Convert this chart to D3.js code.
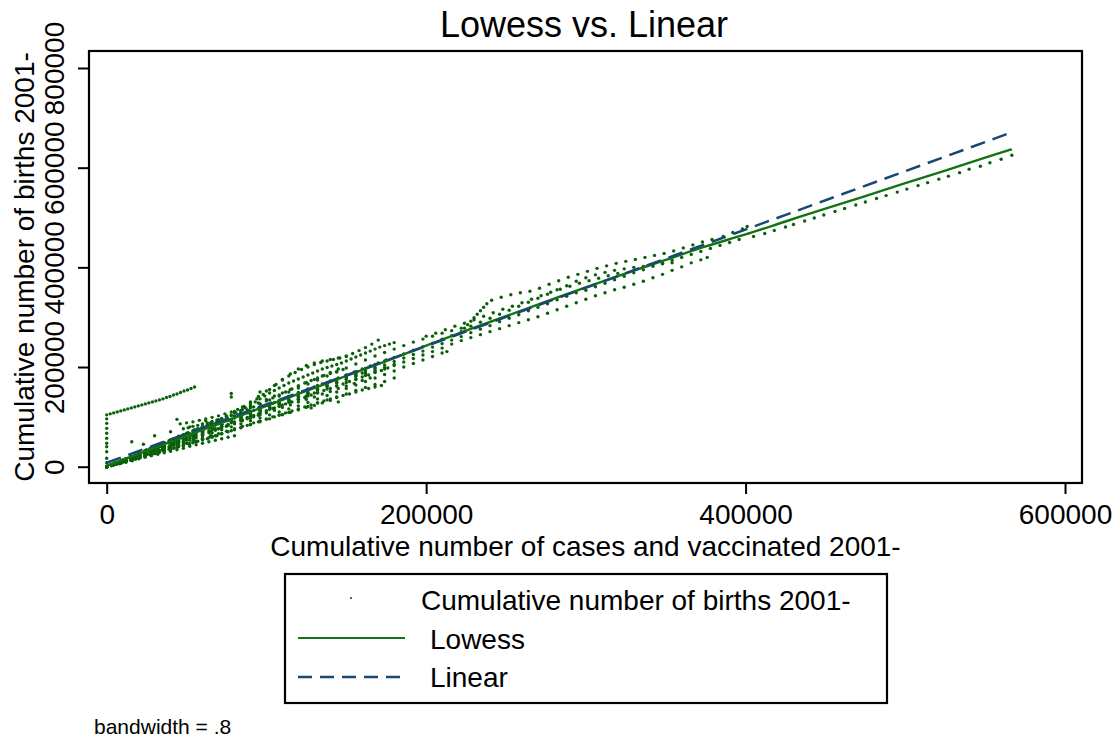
<!DOCTYPE html>
<html><head><meta charset="utf-8">
<script src="https://cdn.jsdelivr.net/npm/d3@7"></script>
<style>
body{margin:0;background:#fff}
svg{display:block}
text{font-family:"Liberation Sans",Arial,sans-serif;fill:#000}
</style></head>
<body><svg id="c" width="1113" height="738"></svg>
<script>
// ---- data (values in thousands) ----
const titleText = "Lowess vs. Linear";
const xTitle = "Cumulative number of cases and vaccinated 2001-";
const yTitle = "Cumulative number of births 2001-";
const xTicks = [0, 200000, 400000, 600000];
const yTicks = [0, 200000, 400000, 600000, 800000];
const legendLabels = ["Cumulative number of births 2001-", "Lowess", "Linear"];
const noteText = "bandwidth = .8";

const trackUL = [[0,104],[2.2,106],[4.4,108],[6.6,110],[8.8,112],[11,114],[13.2,116],[15.4,118],[17.6,120],[19.8,122],[22,124],[24.2,126],[26.4,128],[28.6,130],[30.8,132],[33,134],[35.2,136],[37.4,139],[39.6,141],[41.8,144],[44,146],[46.2,149],[48.4,152],[50.6,154],[52.8,157],[55,160]];
const trackV = [[0,8],[0,17],[0,30],[0,40],[0,47],[0,57],[0,67],[0,77],[0,87],[0,96]];
const trackSpikes = [[15.7,50],[78,147],[78,140],[44,95],[40,70],[30,62],[62,92],[23,45],[52,80],[96,150],[110,105],[128,118],[145,130]];
const trackS1 = [[0,0],[6,5],[12,11],[18,16],[24,22],[30,27],[36,33],[42,38],[48,44],[54,50],[60,55],[66,61],[72,66],[78,72],[84,78],[90,84],[96,90],[102,96],[108,103],[114,109],[120,115],[126,121],[132,128],[138,134],[144,140],[150,146],[156,153],[162,159],[168,165],[174,171],[180,178]];
const trackS2 = [[0,0],[4,3],[8,6],[12,9],[16,12],[20,16],[24,19],[28,22],[32,25],[36,28],[40,31],[44,34],[48,37],[52,41],[56,44],[60,47],[64,50],[68,53],[72,56],[76,59],[80,62]];
const trackS3 = [[0,0],[4,3],[8,7],[12,10],[16,14],[20,17],[24,21],[28,24],[32,28],[36,31],[40,35],[44,39],[48,42],[52,46],[56,50],[60,54],[64,58],[68,62],[72,66],[76,70],[80,74],[84,79],[88,83],[92,88],[96,92],[100,96],[104,100],[108,104],[112,108],[116,112],[120,116],[124,120],[128,124],[132,128],[136,132],[140,136],[144,139],[148,143],[152,146],[156,150],[160,154],[164,157],[168,160],[172,163]];
const trackS4 = [[0,0],[6,6],[12,13],[18,19],[24,25],[30,31],[36,37],[42,44],[48,50],[54,56],[60,62],[66,68],[72,74],[78,80],[84,86],[90,92],[96,98],[102,104],[108,110],[114,116],[120,122],[126,129],[132,136],[138,143],[144,150],[150,157],[156,164],[162,171],[168,178],[174,185],[180,192],[186,200],[192,207],[198,214],[204,221],[210,228],[213,231]];
const trackS5 = [[0,0],[6,7],[12,14],[18,21],[24,28],[30,35],[36,42],[42,49],[48,56],[54,63],[60,70],[66,77],[72,84],[78,91],[84,98],[90,105],[96,112],[102,119],[108,126],[114,133],[120,140],[126,147],[132,154],[138,161],[144,168],[150,175],[156,181],[162,187],[168,193],[174,199],[180,205]];
const trackS6 = [[0,0],[5,6],[10,12],[15,18],[20,24],[25,30],[30,36],[35,41],[40,47],[45,53],[50,59],[55,65],[60,71],[66,78],[72,85],[78,92],[84,99],[90,106],[96,113],[102,120],[108,127],[114,134],[120,141],[126,148],[132,156],[138,164],[144,172],[150,180],[156,187],[162,193],[168,199]];
const trackS7 = [[0,0],[4,5],[8,10],[12,16],[16,21],[20,27],[24,32],[28,37],[32,43],[36,48],[40,53],[44,58],[46,86],[50,88],[54,90],[58,93],[62,96],[66,99],[70,102],[74,106],[78,110],[82,115],[86,121],[90,128],[94,136],[98,145],[102,155],[106,165],[110,174],[114,182],[118,189],[122,195],[126,200],[130,205],[134,209],[138,212],[142,215],[146,218],[150,222],[154,227],[158,233],[162,239],[166,246],[170,254]];
const trackS8 = [[0,0],[5,7],[10,13],[15,19],[20,25],[25,31],[30,37],[35,43],[40,49],[45,56],[50,63],[55,70],[60,78],[65,86],[70,94],[75,102],[80,111],[85,120],[90,130],[95,141],[100,152],[105,163],[110,175],[115,186],[120,196],[125,203],[130,208],[135,212],[140,215],[145,218],[150,221]];
const trackS9 = [[0,0],[5,6],[10,12],[15,18],[20,24],[25,30],[30,36],[35,43],[40,50],[45,57],[50,64],[55,71],[60,78],[66,86],[72,94],[78,102],[84,110],[90,118],[96,126],[102,134],[108,142],[114,150],[120,158],[126,166],[132,174],[138,182],[144,190],[150,198],[156,206],[162,214],[168,222],[174,229],[180,236],[186,243],[192,250],[198,256],[204,262],[210,268],[216,273],[222,278],[228,282],[234,290],[240,298],[246,306],[252,314],[258,322],[264,330],[270,338],[276,346],[282,355],[288,363],[294,372],[300,379],[306,385],[312,390],[318,394],[324,397],[330,400],[336,402],[342,405],[348,407],[354,409]];
const trackS10 = [[0,0],[5,5],[10,11],[15,16],[20,22],[25,27],[30,33],[35,39],[40,45],[45,51],[50,57],[55,63],[60,69],[66,77],[72,85],[78,93],[84,101],[90,109],[96,117],[102,125],[108,133],[114,141],[120,149],[126,156],[132,163],[138,169],[144,175],[150,180],[156,185],[160,188]];
const trackS11 = [[0,0],[5,5],[10,10],[15,15],[20,20],[25,26],[30,31],[35,36],[40,42],[45,47],[50,53],[55,58],[60,64],[65,70],[70,76],[75,82],[80,88],[85,94],[90,100],[95,106],[100,112],[105,118],[110,124],[115,130],[120,136],[125,142],[130,148]];
const trackS12 = [[0,0],[4,5],[8,10],[12,14],[16,19],[20,24],[24,29],[28,33],[32,38],[36,43],[40,48],[44,53],[48,58],[52,63],[56,68],[60,73],[64,78],[68,83],[72,88],[76,93],[80,98],[84,103],[88,108],[92,113],[96,118],[100,123],[104,127],[108,131]];
const trackS13 = [[0,0],[4,4],[8,8],[12,11],[16,15],[20,19],[24,23],[28,27],[32,31],[36,35],[40,39],[44,44],[48,48],[52,53],[56,58],[60,63],[64,68],[68,73],[72,78],[76,83],[80,88],[84,92],[88,96],[92,100],[96,104]];
const trackS14 = [[0,0],[3,4],[6,8],[9,12],[12,16],[15,20],[18,24],[21,28],[24,32],[27,36],[30,40],[33,44],[36,48],[39,52],[42,56],[45,60],[48,64],[51,68],[54,72],[57,76],[60,80],[63,84],[66,87],[69,90],[72,93]];
const trackS15 = [[0,0],[3,3],[6,7],[9,10],[12,14],[15,17],[18,21],[21,25],[24,29],[27,33],[30,37],[33,41],[36,45],[39,49],[42,53],[45,57],[48,61],[51,66],[54,70]];
const trackS16 = [[0,0],[3,3],[6,6],[9,9],[12,12],[15,15],[18,18],[21,21],[24,24],[27,27],[30,30],[33,33],[36,36],[39,40],[42,43]];
const trackS17 = [[0,0],[3,4],[6,7],[9,11],[12,14],[15,18],[18,22],[21,25],[24,29],[27,33],[30,37],[33,40],[36,44],[39,48],[42,52],[45,56],[48,76],[51,78],[54,81],[57,83],[60,86],[63,88],[66,91],[69,94],[72,97],[75,100],[78,104],[81,108],[84,113],[87,118],[90,124],[93,130],[96,136],[99,142],[102,148],[105,153],[108,158],[111,163],[114,168],[117,172],[120,176],[123,180],[126,184],[129,188],[132,192],[135,196],[138,199],[141,202],[144,205],[147,208],[150,212],[153,216],[156,220],[159,224],[162,228],[165,232],[168,236],[171,240],[174,243],[177,246],[180,249]];
const trackS18 = [[0,0],[3,2],[6,5],[9,7],[12,10],[15,13],[18,15],[21,18],[24,21],[27,24],[30,26],[33,29],[36,32],[39,35],[42,37],[45,40],[48,43],[51,46],[54,48],[57,51],[60,54],[63,56],[66,59],[69,62]];
const trackS19 = [[0,0],[3,4],[6,7],[9,11],[12,15],[15,18],[18,22],[21,26],[24,29],[27,33],[30,37],[33,41],[36,45],[39,49],[42,53],[45,57],[48,61],[52,66],[56,71],[60,76],[64,81],[68,86],[72,91],[76,96],[80,102],[84,108],[88,114],[92,120],[96,126],[100,132],[104,138],[108,144],[112,150],[116,156],[120,162],[124,168],[128,173],[132,178],[136,183],[140,187],[144,191],[148,195]];
const trackS20 = [[0,0],[4,4],[8,9],[12,13],[16,18],[20,22],[24,27],[28,31],[32,36],[36,40],[40,45],[44,49],[48,54],[52,58],[56,63],[60,67],[64,72],[68,76],[72,81],[76,85],[80,90],[84,94],[88,99],[92,103],[96,108],[100,112],[104,117],[108,121],[112,126],[116,130],[120,135],[124,139],[128,144],[132,148],[136,153],[140,157],[144,162],[148,166],[152,171],[156,175],[160,180],[164,184],[168,189],[172,193],[176,198]];
const trackS21 = [[0,0],[5,6],[10,12],[15,19],[20,25],[25,31],[30,37],[35,43],[40,49],[45,55],[50,62],[55,68],[60,74],[65,80],[70,86],[75,92],[80,98],[85,104],[90,111],[95,117],[100,123],[105,129],[110,135],[115,141],[120,147],[125,153],[130,160],[135,166],[140,172],[145,178],[150,184],[155,190],[160,196],[165,202],[170,208],[175,214]];
const trackS22 = [[0,0],[5,5],[10,11],[15,16],[20,22],[25,27],[30,32],[35,38],[40,43],[45,49],[50,54],[55,59],[60,65],[65,70],[70,76],[75,81],[80,86],[85,92],[90,97],[95,103],[100,108],[105,113],[110,119],[115,124],[120,130],[125,135],[130,140],[135,146],[140,151],[145,157],[150,162],[155,167],[160,173],[165,178]];
const trackS23 = [[0,0],[5,7],[10,13],[15,20],[20,27],[25,34],[30,40],[35,47],[40,54],[45,61],[50,67],[55,74],[60,81],[65,88],[70,94],[75,101],[80,108],[85,115],[90,121],[95,128],[100,135],[105,142],[110,148],[115,155],[120,162],[125,169],[130,175],[135,182],[140,189],[145,196]];
const trackS24 = [[0,0],[5,5],[10,9],[15,14],[20,19],[25,24],[30,28],[35,33],[40,38],[45,43],[50,47],[55,52],[60,57],[65,62],[70,66],[75,71],[80,76],[85,81],[90,85],[95,90],[100,95],[105,100],[110,104],[115,109],[120,114],[125,119],[130,123],[135,128],[140,133]];
const trackJ = [[0,0],[6,7],[12,14],[18,21],[24,29],[30,36],[36,43],[42,51],[48,58],[54,66],[60,73],[66,80],[72,88],[78,95],[84,102],[90,110],[96,117],[102,124],[108,132],[114,139],[120,146],[126,153],[132,161],[138,168],[144,175],[150,183],[156,190],[162,197],[168,205],[174,212],[180,219],[186,226],[192,234],[198,241],[204,248],[210,256],[216,263],[222,271],[224,278],[226,285],[228,292],[230,299],[232,306],[234,313],[236,320],[238,327],[241,334],[247,340],[253,345],[259,349],[265,352],[271,358],[277,366],[283,373],[289,380],[295,386],[301,392],[307,398],[313,403],[319,408],[325,412],[331,416],[337,420],[343,424],[349,428],[355,433],[361,439],[367,445],[373,451],[379,456],[386,462],[392,470],[398,477],[401,482]];
const trackU3 = [[200,262],[206,268],[212,275],[218,282],[224,288],[230,295],[236,302],[242,309],[248,316],[254,322],[260,329],[266,336],[272,343],[278,350],[284,356],[290,362],[296,368],[302,373],[308,378],[314,383],[320,388]];
const trackLL = [[0,0],[6,7],[12,13],[18,20],[24,27],[30,34],[36,40],[42,47],[48,54],[54,61],[60,68],[66,74],[72,81],[78,88],[84,95],[90,101],[96,108],[102,115],[108,122],[114,129],[120,135],[126,142],[132,149],[138,156],[144,162],[150,169],[156,176],[162,183],[168,190],[174,196],[180,203],[186,210],[192,217],[198,224],[204,231],[210,238],[216,246],[222,253],[228,259],[234,265],[240,271],[246,277],[252,283],[258,289],[264,295],[270,301],[276,308],[282,315],[288,322],[294,329],[300,336],[306,343],[312,349],[318,355],[324,360],[330,366],[336,372],[342,379],[348,386],[354,394],[360,401],[366,409],[372,415],[376,420]];
const trackA = [[0,1],[6,8],[12,15],[18,22],[24,29],[30,36],[36,43],[42,50],[48,57],[54,64],[60,71],[66,78],[72,85],[78,92],[84,99],[90,106],[96,113],[102,120],[108,127],[114,134],[120,141],[126,148],[132,155],[138,162],[144,169],[150,176],[156,183],[162,190],[168,197],[174,204],[180,211],[186,218],[192,225],[198,232],[204,240],[210,247],[216,254],[222,261],[228,269],[234,276],[240,283],[246,291],[252,298],[258,305],[264,313],[270,320],[276,327],[282,335],[288,342],[294,349],[300,354],[306,361],[312,368],[318,375],[324,382],[330,389],[336,395],[342,402],[348,408],[354,414],[360,420],[366,426],[372,432],[378,438],[384,444],[390,450],[396,456],[405,462],[412,468],[418,474],[425,481],[430,486],[437,493],[443,499],[449,505],[456,512],[462,518],[469,525],[475,531],[482,538],[488,544],[495,551],[501,557],[508,564],[514,570],[521,577],[527,583],[534,590],[540,597],[547,603],[553,610],[560,617],[566.7,625]];

const lowessX = [0,25,50,75,100,125,150,175,200,225,250,275,300,325,350,375,400,425,450,475,500,525,550,566.7];
const lowessY = [2,32,62,92,122,152,182,212,243,273,302,331,360,388,415,442,466,492,518,543,569,594,620,637];
const linearX = [0,566.7];
const linearY = [8,671];

// ---- drawing ----
const K = 1000;
const svg = d3.select("#c");
const x = d3.scaleLinear().domain([0,600000]).range([106.7,1065]);
const y = d3.scaleLinear().domain([0,800000]).range([466.7,68]);
const plot = {l:89, t:51, r:1082, b:483};

const green = "#0a600a", lowGreen = "#137313", navy = "#1a476f";

// title
svg.append("text").attr("x",584).attr("y",37).attr("text-anchor","middle")
  .style("font-size","36px").text(titleText);

// points
const allTracks = [trackUL,trackV,trackSpikes,trackS1,trackS2,trackS3,trackS4,trackS5,trackS6,trackS7,trackS8,trackS9,trackS10,trackS11,trackS12,trackS13,trackS14,trackS15,trackS16,trackS17,trackS18,trackS19,trackS20,trackS21,trackS22,trackS23,trackS24,trackJ,trackU3,trackLL,trackA];
const pts = allTracks.flat();
svg.append("g").selectAll("circle").data(pts).join("circle")
  .attr("cx",d=>x(d[0]*K)).attr("cy",d=>y(d[1]*K)).attr("r",1.7).attr("fill",green);

// lowess
const lowessPts = lowessX.map((v,i)=>[v,lowessY[i]]);
svg.append("path").datum(lowessPts)
  .attr("d", d3.line().x(d=>x(d[0]*K)).y(d=>y(d[1]*K)).curve(d3.curveMonotoneX))
  .attr("fill","none").attr("stroke",lowGreen).attr("stroke-width",2.4);
// linear
const linPts = linearX.map((v,i)=>[v,linearY[i]]);
svg.append("path").datum(linPts)
  .attr("d", d3.line().x(d=>x(d[0]*K)).y(d=>y(d[1]*K)))
  .attr("fill","none").attr("stroke",navy).attr("stroke-width",2.5).attr("stroke-dasharray","15,8");

// frame
svg.append("rect").attr("x",plot.l).attr("y",plot.t).attr("width",plot.r-plot.l).attr("height",plot.b-plot.t)
  .attr("fill","none").attr("stroke","#000").attr("stroke-width",2.2);

// x axis
const gx = svg.append("g").attr("transform",`translate(0,${plot.b+1})`)
  .call(d3.axisBottom(x).tickValues(xTicks).tickSize(10).tickFormat(d3.format("d")));
gx.select(".domain").remove();
gx.selectAll(".tick line").attr("stroke","#000").attr("stroke-width",2);
gx.selectAll(".tick text").attr("y",40).attr("dy",null).style("font-size","28px")
  .style("font-family",'"Liberation Sans",Arial,sans-serif').attr("fill","#000");

// y axis
const gy = svg.append("g").attr("transform",`translate(${plot.l-1},0)`)
  .call(d3.axisLeft(y).tickValues(yTicks).tickSize(10).tickFormat(d3.format("d")));
gy.select(".domain").remove();
gy.selectAll(".tick line").attr("stroke","#000").attr("stroke-width",2);
gy.selectAll(".tick text").attr("transform","rotate(-90)").attr("x",0).attr("y",-24.5).attr("dy",null)
  .attr("text-anchor","middle").style("font-size","28px")
  .style("font-family",'"Liberation Sans",Arial,sans-serif').attr("fill","#000");

// axis titles
svg.append("text").attr("x",585.5).attr("y",556).attr("text-anchor","middle")
  .style("font-size","28px").text(xTitle);
svg.append("text").attr("transform","translate(33.5,267) rotate(-90)").attr("text-anchor","middle")
  .style("font-size","28px").text(yTitle);

// legend
const lg = svg.append("g");
lg.append("rect").attr("x",285).attr("y",574).attr("width",602).attr("height",129)
  .attr("fill","#fff").attr("stroke","#000").attr("stroke-width",2.2);
lg.append("circle").attr("cx",351).attr("cy",598).attr("r",1.1).attr("fill",green);
lg.append("line").attr("x1",298).attr("x2",405).attr("y1",638).attr("y2",638)
  .attr("stroke",lowGreen).attr("stroke-width",2.2);
lg.append("line").attr("x1",298).attr("x2",405).attr("y1",677).attr("y2",677)
  .attr("stroke",navy).attr("stroke-width",2.4).attr("stroke-dasharray","14,8");
lg.append("text").attr("x",421).attr("y",610).style("font-size","28px").text(legendLabels[0]);
lg.append("text").attr("x",430).attr("y",649).style("font-size","28px").text(legendLabels[1]);
lg.append("text").attr("x",430).attr("y",687).style("font-size","28px").text(legendLabels[2]);

// note
svg.append("text").attr("x",94).attr("y",734).style("font-size","21px").text(noteText);
</script></body></html>
